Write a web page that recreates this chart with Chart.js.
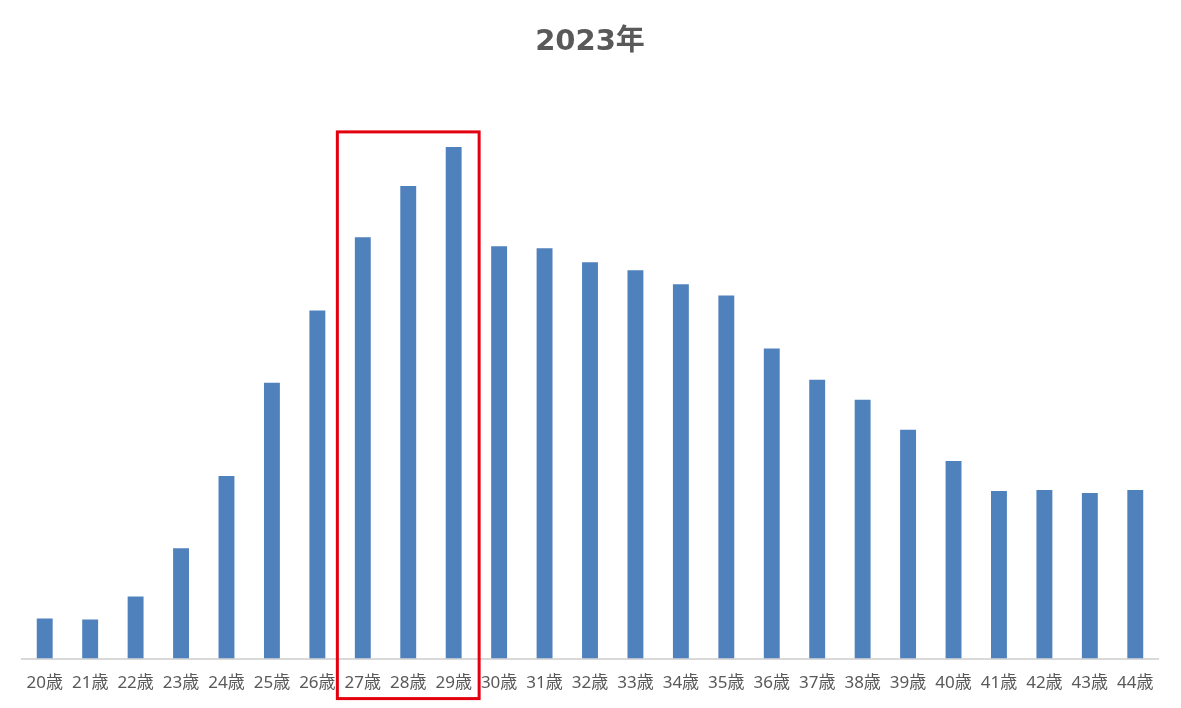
<!DOCTYPE html>
<html>
<head>
<meta charset="utf-8">
<script src="https://cdn.jsdelivr.net/npm/chart.js@4/dist/chart.umd.min.js"></script>
<style>
  html, body { margin: 0; padding: 0; background: #ffffff; }
  #wrap { width: 1181px; height: 708px; position: relative; }
</style>
</head>
<body>
<div id="wrap"><canvas id="ageChart"></canvas></div>
<script>
const ages = ['20歳', '21歳', '22歳', '23歳', '24歳', '25歳', '26歳', '27歳', '28歳', '29歳',
    '30歳', '31歳', '32歳', '33歳', '34歳', '35歳', '36歳', '37歳', '38歳', '39歳',
    '40歳', '41歳', '42歳', '43歳', '44歳'];
const counts = [40, 39, 62, 110, 182, 275, 347, 420, 471, 510,
    411, 409, 395, 387, 373, 362, 309, 278, 258, 228,
    197, 167, 168, 165, 168];
const highlightAges = ['27歳', '29歳'];
const chartTitle = '2023年';

// red box around the highlighted ages
const highlightBox = {
    id: 'highlightBox',
    afterDatasetsDraw(chart) {
        const x = chart.scales.x;
        const y = chart.scales.y;
        const i0 = ages.indexOf(highlightAges[0]);
        const i1 = ages.indexOf(highlightAges[1]);
        const half = (x.getPixelForValue(1) - x.getPixelForValue(0)) * 0.56;
        const peak = Math.max(...counts.slice(i0, i1 + 1));
        const left = x.getPixelForValue(i0) - half;
        const right = x.getPixelForValue(i1) + half;
        const top = y.getPixelForValue(peak) - 15;
        const bottom = chart.chartArea.bottom + 40;
        const ctx = chart.ctx;
        ctx.save();
        ctx.strokeStyle = '#e3000f';
        ctx.lineWidth = 3;
        ctx.strokeRect(left, top, right - left, bottom - top);
        ctx.restore();
    }
};

const ctx = document.getElementById('ageChart').getContext('2d');
const chart = new Chart(ctx, {
    type: 'bar',
    data: {
        labels: ages,
        datasets: [{
            data: counts,
            backgroundColor: '#4f81bd',
            borderWidth: 0,
            categoryPercentage: 0.7,
            barPercentage: 0.5
        }]
    },
    options: {
        responsive: true,
        maintainAspectRatio: false,
        animation: false,
        layout: {
            padding: { left: 22, right: 23, top: 0, bottom: 1 }
        },
        plugins: {
            legend: { display: false },
            tooltip: { enabled: false },
            title: {
                display: true,
                text: chartTitle,
                color: '#595959',
                font: { family: "'DejaVu Sans', 'Noto Sans CJK JP', sans-serif", size: 29, weight: 'bold' },
                padding: { top: 25, bottom: 57 }
            }
        },
        scales: {
            x: {
                grid: { display: false, drawTicks: false },
                border: { display: true, color: '#d9d9d9', width: 2 },
                ticks: {
                    color: '#595959',
                    font: { family: "'Noto Sans', 'Noto Sans CJK JP', sans-serif", size: 17 },
                    padding: 14,
                    maxRotation: 0,
                    autoSkip: false
                }
            },
            y: {
                display: false,
                min: 0,
                max: 540
            }
        }
    },
    plugins: [highlightBox]
});
</script>
</body>
</html>
